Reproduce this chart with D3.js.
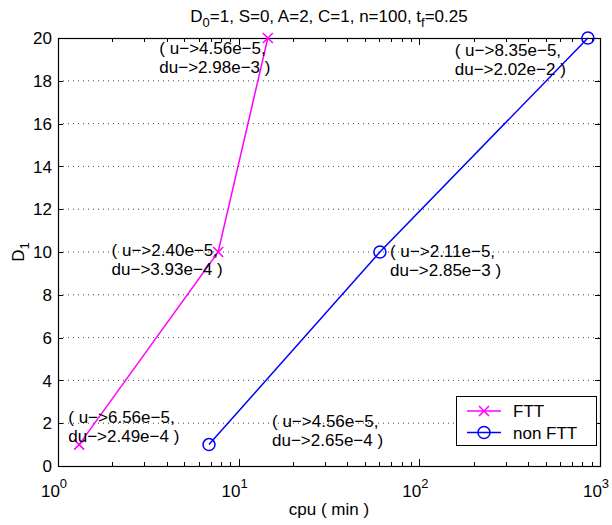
<!DOCTYPE html>
<html><head><meta charset="utf-8">
<script src="https://cdn.jsdelivr.net/npm/d3@7"></script>
<style>
body{margin:0;background:#fff;}
svg{display:block;}
text{font-family:"Liberation Sans",Arial,Helvetica,sans-serif;fill:#000;}
</style></head>
<body>
<svg id="chart" width="612" height="525"></svg>
<script>
// ---- data ----
const seriesNames = ["FTT", "non FTT"];
const seriesColors = ["#ff00ff", "#0000ff"];
const fttCpu = [1.31, 7.7, 14.5];
const fttD1 = [1, 10, 20];
const nonFttCpu = [6.85, 60.5, 857];
const nonFttD1 = [1, 10, 20];
const annotationText = [
  ["( u−>6.56e−5,", "du−>2.49e−4 )"],
  ["( u−>2.40e−5,", "du−>3.93e−4 )"],
  ["( u−>4.56e−5,", "du−>2.98e−3 )"],
  ["( u−>4.56e−5,", "du−>2.65e−4 )"],
  ["( u−>2.11e−5,", "du−>2.85e−3 )"],
  ["( u−>8.35e−5,", "du−>2.02e−2 )"]
];
const annotationCpu = [1.14, 1.98, 3.64, 15.3, 68.8, 157];
const annotationD1 = [2.28, 10.1, 19.52, 2.1, 10.06, 19.45];
const xTickValues = [1, 10, 100, 1000];
const xTickExponents = ["0", "1", "2", "3"];
const yTickValues = [0, 2, 4, 6, 8, 10, 12, 14, 16, 18, 20];
const xLabel = "cpu ( min )";

// ---- layout ----
const W = 612, H = 525;
const L = 58, R = 600, T = 38, B = 466;
const FS = 17;
const svg = d3.select("#chart");

const x = d3.scaleLog().domain([1, 1000]).range([L, R]);
const y = d3.scaleLinear().domain([0, 20]).range([B, T]);

// grid (horizontal dotted)
svg.append("g").selectAll("line")
  .data(yTickValues.filter(v => v > 0 && v < 20))
  .join("line")
  .attr("x1", L).attr("x2", R)
  .attr("y1", d => y(d)).attr("y2", d => y(d))
  .attr("stroke", "#444").attr("stroke-width", 1)
  .attr("stroke-dasharray", "1,4");

// minor x ticks
const minorX = [];
for (let e = 0; e < 3; e++) for (let k = 2; k <= 9; k++) minorX.push(k * Math.pow(10, e));
const tg = svg.append("g").attr("stroke", "#000").attr("stroke-width", 1);
minorX.forEach(v => {
  const px = Math.round(x(v)) + 0.5;
  tg.append("line").attr("x1", px).attr("x2", px).attr("y1", B).attr("y2", B - 4);
  tg.append("line").attr("x1", px).attr("x2", px).attr("y1", T).attr("y2", T + 4);
});
xTickValues.forEach(v => {
  const px = Math.round(x(v)) + 0.5;
  tg.append("line").attr("x1", px).attr("x2", px).attr("y1", B).attr("y2", B - 7);
  tg.append("line").attr("x1", px).attr("x2", px).attr("y1", T).attr("y2", T + 7);
});
yTickValues.forEach(v => {
  const py = Math.round(y(v)) + 0.5;
  tg.append("line").attr("x1", L).attr("x2", L + 5).attr("y1", py).attr("y2", py);
  tg.append("line").attr("x1", R).attr("x2", R - 5).attr("y1", py).attr("y2", py);
});

// box
svg.append("rect").attr("x", L + 0.5).attr("y", T + 0.5)
  .attr("width", R - L).attr("height", B - T)
  .attr("fill", "none").attr("stroke", "#000").attr("stroke-width", 1.2);

// y tick labels
svg.append("g").selectAll("text").data(yTickValues).join("text")
  .attr("x", L - 6).attr("y", d => y(d)).attr("dy", "0.36em")
  .attr("text-anchor", "end").attr("font-size", FS)
  .text(d => d);

// x tick labels with exponent
const xt = svg.append("g").selectAll("text").data(xTickValues).join("text")
  .attr("x", d => x(d) - 4).attr("y", B + 31)
  .attr("text-anchor", "middle").attr("font-size", FS);
xt.append("tspan").text("10");
xt.append("tspan").attr("dy", -9).attr("font-size", 13).text((d, i) => xTickExponents[i]);

// axis labels
svg.append("text").attr("x", (L + R) / 2).attr("y", B + 49)
  .attr("text-anchor", "middle").attr("font-size", FS).text(xLabel);

const yl = svg.append("text")
  .attr("transform", `translate(24,${(T + B) / 2}) rotate(-90)`)
  .attr("text-anchor", "middle").attr("font-size", FS);
yl.append("tspan").text("D");
yl.append("tspan").attr("dy", 5).attr("font-size", 13).text("1");

// title
const tt = svg.append("text").attr("x", (L + R) / 2).attr("y", 22)
  .attr("text-anchor", "middle").attr("font-size", FS);
tt.append("tspan").text("D");
tt.append("tspan").attr("dy", 5).attr("font-size", 13).text("0");
tt.append("tspan").attr("dy", -5).text("=1, S=0, A=2, C=1, n=100, t");
tt.append("tspan").attr("dy", 5).attr("font-size", 13).text("f");
tt.append("tspan").attr("dy", -5).text("=0.25");

// series
const series = [
  {name: seriesNames[0], color: seriesColors[0], pts: fttCpu.map((c, i) => [c, fttD1[i]]), marker: "x"},
  {name: seriesNames[1], color: seriesColors[1], pts: nonFttCpu.map((c, i) => [c, nonFttD1[i]]), marker: "o"}
];
const line = d3.line().x(d => x(d[0])).y(d => y(d[1]));
function drawMarker(g, type, cx, cy, color) {
  if (type === "x") {
    const s = 5;
    g.append("path").attr("d", `M${cx - s},${cy - s}L${cx + s},${cy + s}M${cx - s},${cy + s}L${cx + s},${cy - s}`)
      .attr("stroke", color).attr("stroke-width", 1.5).attr("fill", "none");
  } else {
    g.append("circle").attr("cx", cx).attr("cy", cy).attr("r", 6)
      .attr("stroke", color).attr("stroke-width", 1.5).attr("fill", "none");
  }
}
series.forEach(s => {
  const g = svg.append("g");
  g.append("path").attr("d", line(s.pts)).attr("fill", "none")
    .attr("stroke", s.color).attr("stroke-width", 1.5);
  s.pts.forEach(p => drawMarker(g, s.marker, x(p[0]), y(p[1]), s.color));
});

// annotations
const ag = svg.append("g");
annotationText.forEach((lines, i) => {
  const t = ag.append("text").attr("font-size", FS);
  lines.forEach((ln, j) => {
    t.append("tspan").attr("x", x(annotationCpu[i]))
      .attr("y", y(annotationD1[i]) + j * 19).attr("dy", "0.36em").text(ln);
  });
});

// legend
const lx0 = 456, ly0 = 396, lw = 140, lh = 49;
const lg = svg.append("g");
lg.append("rect").attr("x", lx0 + 0.5).attr("y", ly0 + 0.5).attr("width", lw).attr("height", lh)
  .attr("fill", "#fff").attr("stroke", "#000").attr("stroke-width", 1);
series.forEach((s, i) => {
  const yy = ly0 + 15 + i * 21.5;
  lg.append("line").attr("x1", lx0 + 11).attr("x2", lx0 + 45).attr("y1", yy).attr("y2", yy)
    .attr("stroke", s.color).attr("stroke-width", 1.5);
  drawMarker(lg, s.marker, lx0 + 28, yy, s.color);
  lg.append("text").attr("x", lx0 + 57).attr("y", yy).attr("dy", "0.36em")
    .attr("font-size", FS).text(s.name);
});
</script>
</body></html>
